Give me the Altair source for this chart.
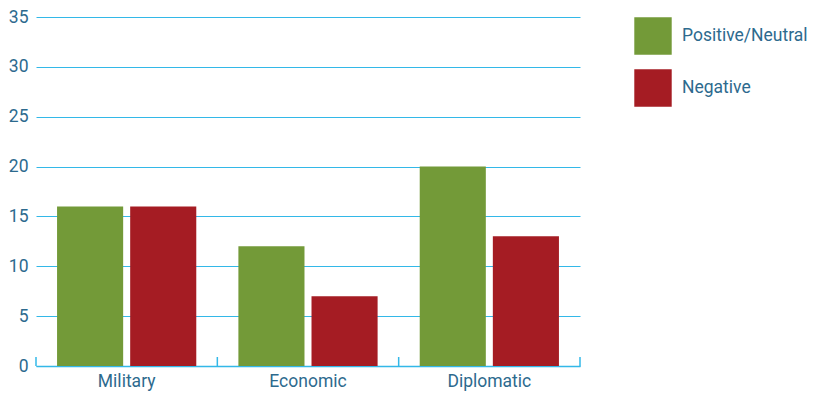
import altair as alt
import pandas as pd

categories = ["Military", "Economic", "Diplomatic"]
series = ["Positive/Neutral", "Negative"]
positive = [16, 12, 20]
negative = [16, 7, 13]

rows = []
for c, p, n in zip(categories, positive, negative):
    rows.append({"category": c, "series": series[0], "value": p})
    rows.append({"category": c, "series": series[1], "value": n})
df = pd.DataFrame(rows)

W, H = 544, 349
grid = "#33b8e8"
txt = "#2d6a8e"
font = "Roboto"
fs = 17.5

xscale = alt.Scale(domain=categories, paddingInner=0, paddingOuter=0)
xaxis = alt.Axis(labelAngle=0, ticks=False, domain=True, domainColor=grid, domainWidth=1.5,
                 grid=False, labelColor=txt, labelFont=font, labelFontSize=fs, labelPadding=6)

bars = alt.Chart(df).mark_bar().encode(
    x=alt.X("category:N", scale=xscale, sort=categories, title=None, axis=xaxis),
    xOffset=alt.XOffset("series:N", sort=series,
                        scale=alt.Scale(paddingInner=0.096, paddingOuter=0.288)),
    y=alt.Y("value:Q", scale=alt.Scale(domain=[0, 35]), title=None,
            axis=alt.Axis(values=[0, 5, 10, 15, 20, 25, 30, 35], domain=False, ticks=False,
                          gridColor=grid, gridWidth=1, labelColor=txt, labelFont=font,
                          labelFontSize=fs, labelPadding=8)),
    color=alt.Color("series:N", sort=series,
                    scale=alt.Scale(domain=series, range=["#739a38", "#a51c23"]),
                    legend=alt.Legend(title=None, orient="none", legendX=598, legendY=0,
                                      symbolType="square", symbolSize=1400, symbolStrokeWidth=0,
                                      symbolOpacity=1, labelColor=txt, labelFont=font,
                                      labelFontSize=fs, rowPadding=14, labelOffset=10,
                                      labelLimit=200)),
)

tick_df = pd.DataFrame({"category": categories})
ticks = alt.Chart(tick_df).mark_rule(color=grid, strokeWidth=1.5).encode(
    x=alt.X("category:N", scale=xscale, sort=categories, bandPosition=0, title=None, axis=xaxis),
    y=alt.value(H - 9), y2=alt.value(H),
)
end_tick = alt.Chart(tick_df.head(1)).mark_rule(color=grid, strokeWidth=1.5).encode(
    x=alt.value(W), y=alt.value(H - 9), y2=alt.value(H),
)

chart = alt.layer(bars, ticks, end_tick).properties(
    width=W, height=H,
    autosize=alt.AutoSizeParams(type="none"),
    padding={"left": 36, "top": 17, "right": 234, "bottom": 27},
).configure_view(stroke=None)

chart.save("out.html", embed_options={"renderer": "svg", "actions": False})
